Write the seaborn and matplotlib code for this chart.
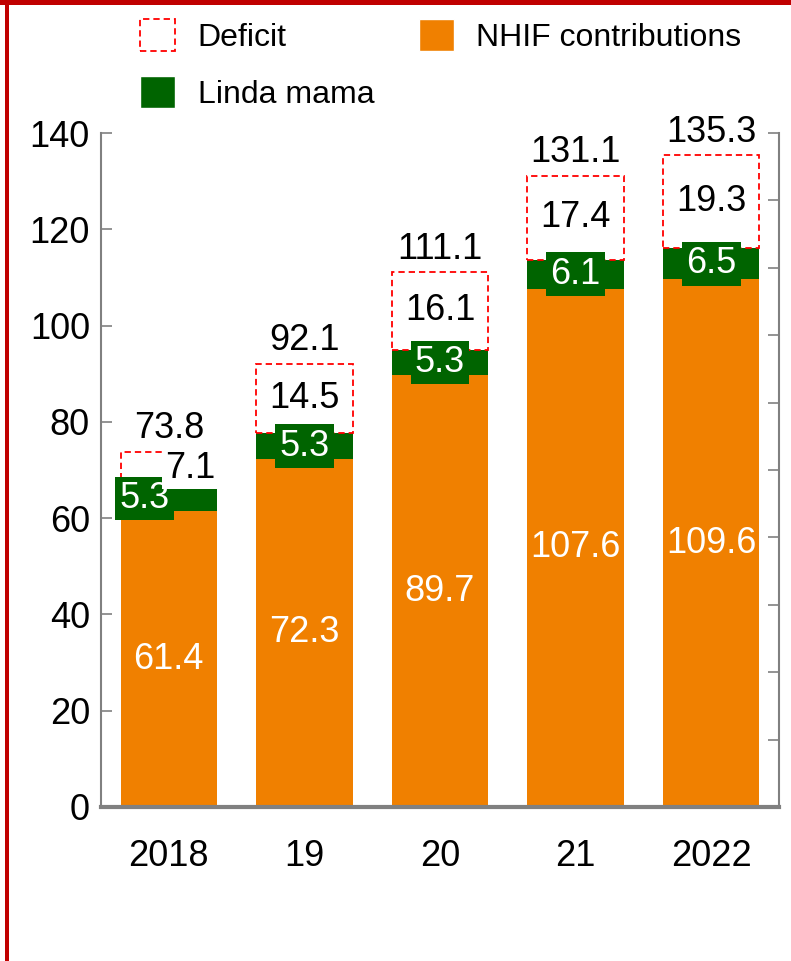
import numpy as np
import pandas as pd
import matplotlib
matplotlib.use('Agg')
import matplotlib.pyplot as plt
from matplotlib.patches import Patch, Rectangle
import seaborn as sns

# 데이터
years = ['2018', '19', '20', '21', '2022']
nhif = [61.4, 72.3, 89.7, 107.6, 109.6]
linda = [5.3, 5.3, 5.3, 6.1, 6.5]
deficit = [7.1, 14.5, 16.1, 17.4, 19.3]
totals = [73.8, 92.1, 111.1, 131.1, 135.3]

ORANGE = '#F08000'
GREEN = '#006400'
RED = '#FF0000'
GRAY = '#808080'
DASH = (0, (3.5, 2.2))

sns.set_style('white')
plt.rcParams['font.family'] = ['Liberation Sans', 'DejaVu Sans']
plt.rcParams['text.color'] = 'black'
plt.rcParams['xtick.color'] = 'black'
plt.rcParams['ytick.color'] = 'black'

df = pd.DataFrame({'year': years, 'nhif': nhif, 'linda': linda, 'deficit': deficit})
df['nhif_linda'] = df['nhif'] + df['linda']

fig = plt.figure(figsize=(7.91, 9.61), dpi=100)
ax = fig.add_axes([0.1277, 0.1603, 0.857, 0.7013])

# 누적 막대: 녹색(NHIF+Linda) 위에 주황(NHIF)
sns.barplot(data=df, x='year', y='nhif_linda', color=GREEN, width=0.71,
            saturation=1, linewidth=0, ax=ax)
sns.barplot(data=df, x='year', y='nhif', color=ORANGE, width=0.71,
            saturation=1, linewidth=0, ax=ax)
# 적자: 점선 박스
x = np.arange(len(years))
ax.bar(x, df['deficit'], bottom=df['nhif_linda'], width=0.71,
       facecolor='white', edgecolor=RED, linestyle=DASH, linewidth=1.3)

# 라벨 (2018은 겹침 때문에 좌우로 이동)
shift_l = [-0.18, 0, 0, 0, 0]
shift_d = [0.16, 0, 0, 0, 0]
for i in range(len(years)):
    ax.text(i, nhif[i] / 2, f'{nhif[i]}', ha='center', va='center',
            color='white', fontsize=26)
    ax.text(i + shift_l[i], nhif[i] + linda[i] / 2, f'{linda[i]}',
            ha='center', va='center', color='white', fontsize=26,
            bbox=dict(boxstyle='square,pad=0.12', fc=GREEN, ec='none'))
    top = df['nhif_linda'][i] + deficit[i]
    ax.text(i + shift_d[i], df['nhif_linda'][i] + deficit[i] / 2, f'{deficit[i]}',
            ha='center', va='center', color='black', fontsize=26,
            bbox=dict(boxstyle='square,pad=0.08', fc='white', ec='none'))
    ax.annotate(f'{totals[i]}', (i, top), xytext=(0, 4),
                textcoords='offset points', ha='center', va='bottom',
                fontsize=26, color='black')

ax.set_xlim(-0.5, 4.5)
ax.set_ylim(0, 140)
ax.set_yticks(range(0, 141, 20))
ax.set_xlabel('')
ax.set_ylabel('')
ax.tick_params(axis='y', direction='in', length=8, width=1.2, color=GRAY,
               labelcolor='black', pad=8, labelsize=26)
ax.tick_params(axis='x', length=0, pad=23, labelcolor='black', labelsize=26)
for s in ['top', 'right']:
    ax.spines[s].set_visible(False)
ax.spines['left'].set_color(GRAY)
ax.spines['left'].set_linewidth(1.5)
ax.spines['bottom'].set_color(GRAY)
ax.spines['bottom'].set_linewidth(3)

# 오른쪽 보조축 (눈금만)
ax2 = ax.twinx()
ax2.set_ylim(0, 10)
ax2.set_yticks(range(11))
ax2.set_yticklabels([])
ax2.tick_params(axis='y', direction='in', length=8, width=1.2, color=GRAY)
for s in ['top', 'left', 'bottom']:
    ax2.spines[s].set_visible(False)
ax2.spines['right'].set_color(GRAY)
ax2.spines['right'].set_linewidth(1.5)

handles = [
    Patch(facecolor='white', edgecolor=RED, linestyle=DASH, linewidth=1.3, label='Deficit'),
    Patch(facecolor=GREEN, label='Linda mama'),
    Patch(facecolor=ORANGE, label='NHIF contributions'),
]
fig.legend(handles=handles, loc='upper left', bbox_to_anchor=(0.177, 0.980),
           ncol=2, frameon=False, fontsize=23, handlelength=1.1, handleheight=1.15,
           handletextpad=0.7, columnspacing=1.4, labelspacing=0.72,
           borderpad=0, borderaxespad=0)

# 빨간 테두리
fig.add_artist(Rectangle((0, 1 - 5 / 961), 1, 5 / 961, transform=fig.transFigure,
                         facecolor='#C00000', edgecolor='none'))
fig.add_artist(Rectangle((5 / 791, 0), 4 / 791, 1, transform=fig.transFigure,
                         facecolor='#C00000', edgecolor='none'))

fig.savefig('out.png', dpi=100)
